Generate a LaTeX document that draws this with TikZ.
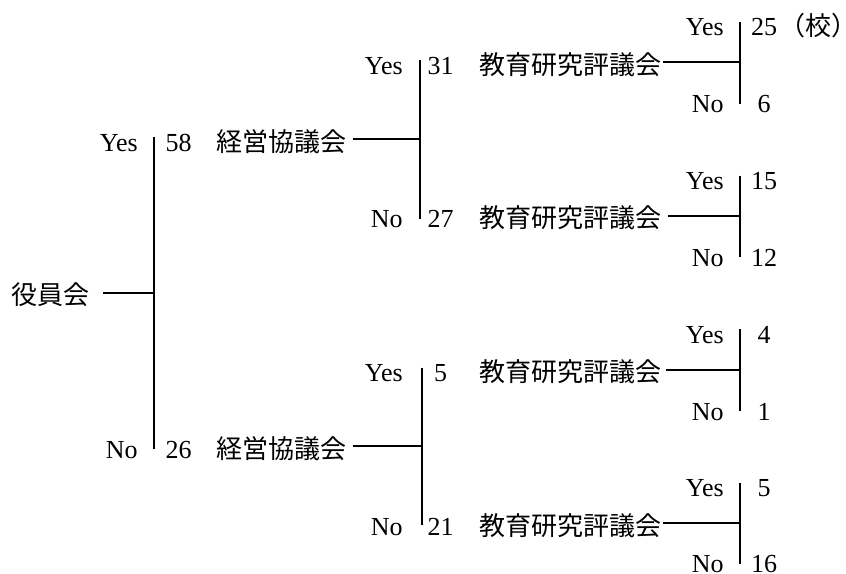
\documentclass[tikz,border=0pt]{standalone}
\usepackage{fontspec}
\setmainfont{Liberation Serif}
\newfontfamily\jpfont{Noto Sans CJK JP}
\newfontfamily\jpfonthalt[RawFeature=+halt]{Noto Sans CJK JP}
\usepackage{tikz}

\tikzset{
  lbl/.style={inner sep=0pt, text height=18pt, text depth=0pt, font=\fontsize{19.5}{22}\selectfont},
  jlbl/.style={lbl, font=\jpfont\fontsize{19.5}{22}\selectfont},
  tline/.style={line width=1.4pt},
}

\begin{document}
\begin{tikzpicture}[x=0.75pt,y=0.75pt,yscale=-1,xscale=1]
\path [use as bounding box] (0,0) rectangle (846,574);

% Text Node
\draw (11,304.8) node [jlbl,anchor=base west] (yakuin) {役員会};

%Branch points
\coordinate (b1top) at (154,137.2);
\coordinate (b1bot) at (154,449.4);
\coordinate (b2atop) at (420,60.4);
\coordinate (b2abot) at (420,219);
\coordinate (b2btop) at (422,367.6);
\coordinate (b2bbot) at (422,525.2);
\coordinate (b3atop) at (740,22);
\coordinate (b3abot) at (740,103.8);
\coordinate (b3btop) at (740,175.6);
\coordinate (b3bbot) at (740,257.4);
\coordinate (b3ctop) at (740,329.2);
\coordinate (b3cbot) at (740,411);
\coordinate (b3dtop) at (740,482.8);
\coordinate (b3dbot) at (740,563.6);

% Text Node
\draw (138,151.2) node [lbl,anchor=base east] (yes1) {Yes};
\draw (138,458.4) node [lbl,anchor=base east] (no1) {No};
\draw (178.5,151.2) node [lbl,anchor=base] (n58) {58};
\draw (178.5,458.4) node [lbl,anchor=base] (n26) {26};
\draw (216,151.2) node [jlbl,anchor=base west] (keiei1) {経営協議会};
\draw (216,458.4) node [jlbl,anchor=base west] (keiei2) {経営協議会};

% Text Node
\draw (403,74.4) node [lbl,anchor=base east] (yes2a) {Yes};
\draw (403,228) node [lbl,anchor=base east] (no2a) {No};
\draw (403,381.6) node [lbl,anchor=base east] (yes2b) {Yes};
\draw (403,535.2) node [lbl,anchor=base east] (no2b) {No};
\draw (440.5,74.4) node [lbl,anchor=base] (n31) {31};
\draw (440.5,228) node [lbl,anchor=base] (n27) {27};
\draw (440.5,381.6) node [lbl,anchor=base] (n5a) {5};
\draw (440.5,535.2) node [lbl,anchor=base] (n21) {21};
\draw (479,74.4) node [jlbl,anchor=base west] (kyoiku1) {教育研究評議会};
\draw (479,228) node [jlbl,anchor=base west] (kyoiku2) {教育研究評議会};
\draw (479,381.6) node [jlbl,anchor=base west] (kyoiku3) {教育研究評議会};
\draw (479,535.2) node [jlbl,anchor=base west] (kyoiku4) {教育研究評議会};

% Text Node
\draw (724,36) node [lbl,anchor=base east] (yes3a) {Yes};
\draw (724,112.8) node [lbl,anchor=base east] (no3a) {No};
\draw (724,189.6) node [lbl,anchor=base east] (yes3b) {Yes};
\draw (724,266.4) node [lbl,anchor=base east] (no3b) {No};
\draw (724,343.2) node [lbl,anchor=base east] (yes3c) {Yes};
\draw (724,420) node [lbl,anchor=base east] (no3c) {No};
\draw (724,496.8) node [lbl,anchor=base east] (yes3d) {Yes};
\draw (724,572.4) node [lbl,anchor=base east] (no3d) {No};
\draw (764,36) node [lbl,anchor=base] (n25) {25};
\draw (764,112.8) node [lbl,anchor=base] (n6) {6};
\draw (764,189.6) node [lbl,anchor=base] (n15) {15};
\draw (764,266.4) node [lbl,anchor=base] (n12) {12};
\draw (764,343.2) node [lbl,anchor=base] (n4) {4};
\draw (764,420) node [lbl,anchor=base] (n1) {1};
\draw (764,496.8) node [lbl,anchor=base] (n5b) {5};
\draw (764,572.4) node [lbl,anchor=base] (n16) {16};
\draw (845,36) node [jlbl,font=\jpfonthalt\fontsize{19.5}{22}\selectfont,anchor=base east] (unit) {（校）};

%Straight Lines
\draw [tline] (b1top) -- (b1bot);
\draw [tline,shorten <=9.75pt] (yakuin.east) -- (yakuin.east -| b1top);
\draw [tline] (b2atop) -- (b2abot);
\draw [tline,shorten <=4.5pt] (keiei1.east) -- (keiei1.east -| b2atop);
\draw [tline] (b2btop) -- (b2bbot);
\draw [tline,shorten <=4.5pt] (keiei2.east) -- (keiei2.east -| b2btop);

%Straight Lines
\draw [tline] (b3atop) -- (b3abot);
\draw [tline,shorten <=1pt] (kyoiku1.east) -- (kyoiku1.east -| b3atop);
\draw [tline] (b3btop) -- (b3bbot);
\draw [tline,shorten <=4.5pt] (kyoiku2.east) -- (kyoiku2.east -| b3btop);
\draw [tline] (b3ctop) -- (b3cbot);
\draw [tline,shorten <=3pt] (kyoiku3.east) -- (kyoiku3.east -| b3ctop);
\draw [tline] (b3dtop) -- (b3dbot);
\draw [tline,shorten <=1pt] (kyoiku4.east) -- (kyoiku4.east -| b3dtop);

\end{tikzpicture}
\end{document}
